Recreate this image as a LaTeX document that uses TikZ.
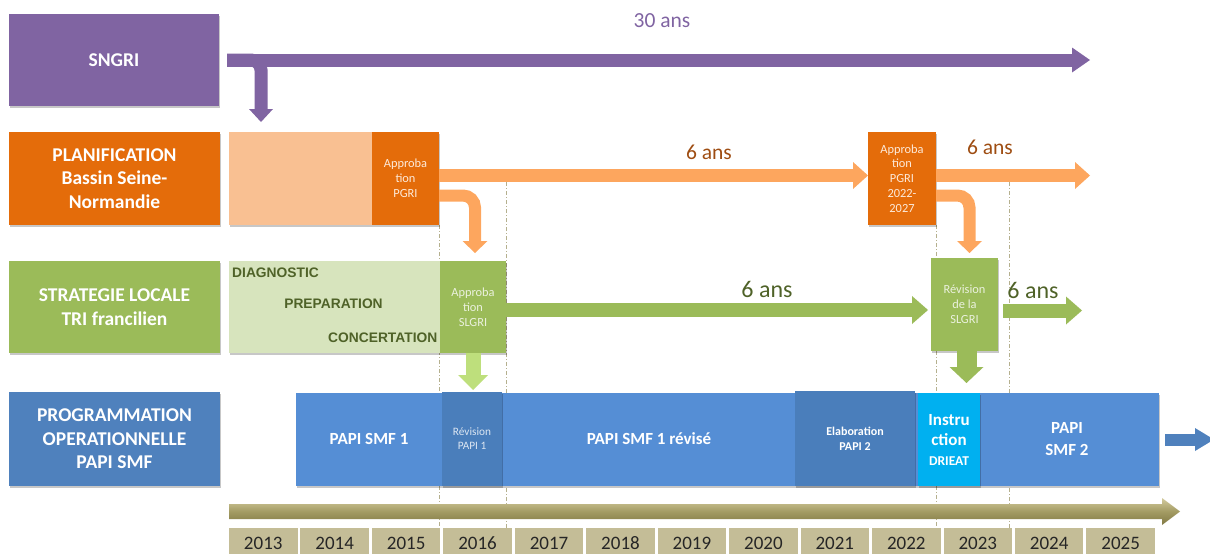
\documentclass[tikz,border=0pt]{standalone}
\usepackage{fontspec}
\setmainfont{Carlito}[Numbers=Lining]
\newfontfamily\arialf{Liberation Sans}
\usetikzlibrary{arrows.meta,shadows,calc,backgrounds}
\definecolor{cPurple}{HTML}{8064A2}
\definecolor{cOrange}{HTML}{E46C0A}
\definecolor{cOrangeL}{HTML}{F9C092}
\definecolor{cOrangeA}{HTML}{FDA65E}
\definecolor{cOrangeT}{HTML}{9E4D12}
\definecolor{cOrangeW}{HTML}{FDEADA}
\definecolor{cGreen}{HTML}{9BBB59}
\definecolor{cGreenL}{HTML}{D7E4BD}
\definecolor{cGreenT}{HTML}{4F6228}
\definecolor{cGreenA}{HTML}{BEDF7C}
\definecolor{cGreenW}{HTML}{EBF1DE}
\definecolor{cBlue}{HTML}{4F81BD}
\definecolor{cBlueD}{HTML}{4A7EBB}
\definecolor{cBlueB}{HTML}{558ED5}
\definecolor{cBlueW}{HTML}{DCE6F2}
\definecolor{cCyan}{HTML}{00B0F0}
\definecolor{cKhaki}{HTML}{C4BD97}
\definecolor{cKTop}{HTML}{D3CB9E}
\definecolor{cKMid}{HTML}{A39B63}
\definecolor{cKBot}{HTML}{817944}
\definecolor{cDash}{HTML}{B5B08E}
\definecolor{cYear}{HTML}{262626}
\begin{document}
\begin{tikzpicture}[x=1pt,y=-1pt,
  box/.style={inner sep=0pt, outer sep=0pt, anchor=north west, align=center,
    drop shadow={shadow xshift=1.2pt,shadow yshift=-1.5pt,opacity=0.22,fill=black}},
  lbl/.style={box, text=white, font=\fontsize{19.5}{23.5}\selectfont\bfseries},
  small/.style={font=\fontsize{12.4}{14.8}\selectfont},
  fat/.style args={#1/#2/#3}{line width=#1, -{Triangle[length=#2,width=#3,line width=0pt]}},
  dur/.style={font=\fontsize{21.5}{21.5}\selectfont},
  durg/.style={font=\fontsize{24}{24}\selectfont, text=cGreenT},
  phase/.style={font=\arialf\bfseries\fontsize{13.8}{16}\selectfont, text=cGreenT, inner sep=0pt},
  bandtxt/.style={text=white, align=center, font=\fontsize{17}{22}\selectfont\bfseries},
  yr/.style={inner sep=0pt, outer sep=0pt, anchor=north west, fill=cKhaki,
    minimum width=68.5pt, minimum height=30pt, text=cYear, font=\fontsize{19}{19}\selectfont},
  dashl/.style={draw=cDash, line width=0.8pt, dash pattern=on 4pt off 2pt on 1pt off 2pt}
]
\useasboundingbox (0,0) rectangle (1210,554);

% ---- row 1 : SNGRI
\node[lbl, fill=cPurple, minimum width=210pt, minimum height=92pt] (sngri) at (9,14) {SNGRI};
\coordinate (p30end) at (1090,60);
\coordinate (ptip) at (261,122);
\draw[fat=13pt/18pt/25pt, cPurple] ($(sngri.east)+(8,0)$) -- (p30end);
\draw[fat=13pt/13pt/24pt, cPurple, rounded corners=10pt] ($(sngri.east)+(8,0)$) -| (ptip);
\node[dur, text=cPurple] (t30) at (662,21) {30 ans};

% ---- row 2 : PLANIFICATION
\node[lbl, fill=cOrange, minimum width=211pt, minimum height=93pt] (plan) at (9,132)
  {PLANIFICATION\\Bassin Seine-\\Normandie};
\node[box, fill=cOrangeL, minimum width=143pt, minimum height=93pt] (planl) at (229,132) {};
\node[box, small, fill=cOrange, text=cOrangeW, minimum width=67pt, minimum height=93pt] (pgri1) at (372,132)
  {Approba\\tion\\PGRI};
\node[box, small, fill=cOrange, text=cOrangeW, minimum width=68pt, minimum height=93pt] (pgri2) at (868,132)
  {Approba\\tion\\PGRI\\2022-\\2027};
\coordinate (o6end) at (1090,175.5);
\draw[fat=13pt/15pt/27pt, cOrangeA] ($(pgri1.east)+(0,-3)$) -- ($(pgri2.west)+(0,-3)$);
\draw[fat=13pt/15pt/27pt, cOrangeA] ($(pgri2.east)+(0,-3)$) -- (o6end);
\node[dur, text=cOrangeT] (t6a) at (709,152) {6 ans};
\node[dur, text=cOrangeT] (t6b) at (990,147) {6 ans};

% ---- row 3 : STRATEGIE LOCALE
\node[lbl, fill=cGreen, minimum width=211pt, minimum height=92pt] (strat) at (9,261)
  {STRATEGIE LOCALE\\TRI francilien};
\node[box, fill=cGreenL, minimum width=211pt, minimum height=92pt] (stratl) at (229,261) {};
\node[phase, anchor=west] (diag) at (232,273) {DIAGNOSTIC};
\node[phase] (prep) at (333.5,304) {PREPARATION};
\node[phase, anchor=east] (conc) at (437.5,338) {CONCERTATION};
\node[box, small, fill=cGreen, text=cGreenW, minimum width=66pt, minimum height=92pt] (slgri1) at (440,261)
  {Approba\\tion\\SLGRI};
\node[box, small, fill=cGreen, text=cGreenW, minimum width=67pt, minimum height=93pt] (slgri2) at (931,258)
  {Révision\\de la\\SLGRI};
\coordinate (g6end) at (1082,310.5);
\draw[fat=12pt/12pt/25pt, cOrangeA, rounded corners=12pt] ($(pgri1.east)+(0,17)$) -| ($(slgri1.north)+(2,-8)$);
\draw[fat=12pt/12pt/25pt, cOrangeA, rounded corners=12pt] ($(pgri2.east)+(0,17)$) -| ($(slgri2.north)+(5,-5)$);
\draw[fat=14pt/16pt/28pt, cGreen] ($(slgri1.east)+(0,3)$) -- ($(slgri1.east -| slgri2.west)+(-3,3)$);
\draw[fat=14pt/16pt/28pt, cGreen] ($(slgri2.east)+(5,6)$) -- (g6end);
\node[durg] (t6c) at (767,289) {6 ans};
\node[durg] (t6d) at (1033,290) {6 ans};

% ---- row 4 : PROGRAMMATION
\node[lbl, fill=cBlue, minimum width=211pt, minimum height=94pt] (prog) at (9,392)
  {PROGRAMMATION\\OPERATIONNELLE\\PAPI SMF};
\node[box, fill=cBlueB, minimum width=863pt, minimum height=93pt] (band) at (296,393) {};
\node[box, fill=cBlueD, text=cBlueW, font=\fontsize{11.3}{14}\selectfont, minimum width=60pt, minimum height=94pt] (revpapi) at (442,392)
  {Révision\\PAPI 1};
\node[box, fill=cBlueD, text=white, font=\fontsize{12}{15}\selectfont\bfseries, minimum width=120pt, minimum height=95pt] (elab) at (795,391)
  {Elaboration\\PAPI 2};
\node[box, fill=cCyan, text=white, font=\fontsize{17}{20}\selectfont\bfseries, minimum width=62pt, minimum height=93pt] (instr) at (918,393)
  {Instru\\ction\\{\fontsize{13.5}{18}\selectfont DRIEAT}};
\node[bandtxt] (papi1) at (369,439) {PAPI SMF 1};
\node[bandtxt] (papi1r) at (649,439) {PAPI SMF 1 révisé};
\node[bandtxt] (papi2) at (1067,439) {PAPI\\SMF 2};
\draw[fat=15pt/15pt/30pt, cGreenA] (slgri1.south) -- ($(slgri1.south)+(0,37)$);
\draw[fat=20pt/16pt/34pt, cGreen] ($(slgri2.south)+(2,0)$) -- ($(slgri2.south)+(2,32)$);
\draw[fat=12pt/19pt/23pt, cBlue] ($(band.east)+(6,0)$) -- ($(band.east)+(55,0)$);

% ---- timeline
\shade[top color=cKTop, bottom color=cKBot, middle color=cKMid]
  (229,504) -- (1162,504) -- (1162,498) -- (1180,511.5) -- (1162,525) -- (1162,519) -- (229,519) -- cycle;
\foreach \i [evaluate=\i as \xx using {229+(\i-2013)*71.45}] in {2013,...,2025}
  {\node[yr] (y\i) at (\xx,528) {\i};}

% ---- dashed guides
\begin{pgfonlayer}{background}
\draw[dashl] (pgri1.south east) -- (pgri1.south east |- y2015.north);
\draw[dashl] (slgri1.east |- 0,182) -- (slgri1.east |- y2016.north);
\draw[dashl] (pgri2.south east) -- (pgri2.south east |- y2023.north);
\draw[dashl] (1009,182) -- (1009,528);
\end{pgfonlayer}
\end{tikzpicture}
\end{document}
